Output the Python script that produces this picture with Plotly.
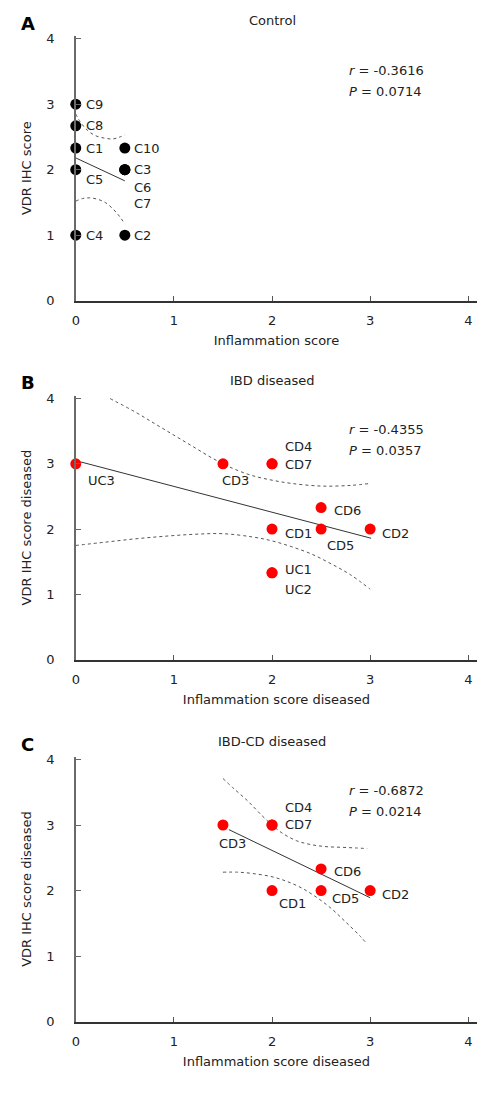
import plotly.graph_objects as go

# ---------------- data ----------------
# Panel A: Control
a_labels = ["C9", "C8", "C1", "C5", "C4", "C10", "C3", "C6", "C7", "C2"]
a_x = [0, 0, 0, 0, 0, 0.5, 0.5, 0.5, 0.5, 0.5]
a_y = [3, 2.67, 2.33, 2, 1, 2.33, 2, 2, 2, 1]
a_fit_x = [0, 0.5]
a_fit_y = [2.18, 1.83]
a_up_x = [0.0, 0.05, 0.12, 0.2, 0.3, 0.38, 0.45, 0.5]
a_up_y = [2.85, 2.72, 2.6, 2.52, 2.48, 2.47, 2.5, 2.53]
a_lo_x = [0.0, 0.07, 0.14, 0.22, 0.3, 0.38, 0.45, 0.5]
a_lo_y = [1.52, 1.56, 1.57, 1.55, 1.5, 1.4, 1.28, 1.17]
a_r, a_p = "-0.3616", "0.0714"

# Panel B: IBD diseased
b_labels = ["UC3", "CD3", "CD4", "CD7", "CD6", "CD1", "CD5", "CD2", "UC1", "UC2"]
b_x = [0, 1.5, 2, 2, 2.5, 2, 2.5, 3, 2, 2]
b_y = [3, 3, 3, 3, 2.33, 2, 2, 2, 1.33, 1.33]
b_fit_x = [0.05, 3.01]
b_fit_y = [3.03, 1.86]
b_up_x = [0.35, 0.6, 0.8, 1.0, 1.2, 1.4, 1.6, 1.8, 2.0, 2.2, 2.5, 2.8, 3.0]
b_up_y = [4.0, 3.8, 3.62, 3.44, 3.26, 3.08, 2.93, 2.82, 2.75, 2.7, 2.66, 2.67, 2.70]
b_lo_x = [0.0, 0.3, 0.6, 0.9, 1.2, 1.5, 1.8, 2.0, 2.2, 2.4, 2.6, 2.8, 3.0]
b_lo_y = [1.75, 1.8, 1.85, 1.89, 1.92, 1.93, 1.88, 1.82, 1.73, 1.62, 1.47, 1.3, 1.08]
b_r, b_p = "-0.4355", "0.0357"

# Panel C: IBD-CD diseased
c_labels = ["CD3", "CD4", "CD7", "CD6", "CD1", "CD5", "CD2"]
c_x = [1.5, 2, 2, 2.5, 2, 2.5, 3]
c_y = [3, 3, 3, 2.33, 2, 2, 2]
c_fit_x = [1.56, 3.0]
c_fit_y = [2.93, 1.89]
c_up_x = [1.5, 1.6, 1.75, 1.9, 2.0, 2.1, 2.25, 2.4, 2.55, 2.7, 2.85, 2.97]
c_up_y = [3.71, 3.57, 3.37, 3.14, 3.0, 2.88, 2.76, 2.7, 2.67, 2.66, 2.65, 2.64]
c_lo_x = [1.5, 1.65, 1.8, 2.0, 2.15, 2.3, 2.45, 2.6, 2.75, 2.9, 2.97]
c_lo_y = [2.28, 2.28, 2.26, 2.21, 2.14, 2.04, 1.9, 1.73, 1.52, 1.3, 1.18]
c_r, c_p = "-0.6872", "0.0214"

tick_vals = [0, 1, 2, 3, 4]

# ---------------- label placement (pixel offsets) ----------------
a_off = [(8, 0), (8, 0), (8, 0), (8, -10), (8, 0), (7.5, 0), (7.5, 0), (7.5, -18), (7.5, -34), (7.5, 0)]
b_off = [(10, -17), (-2.5, -17), (10.5, 17), (10.5, -1), (11, -3), (10.5, -4), (3.5, -16), (10, -4), (10.5, 3), (10.5, -17)]
c_off = [(-6, -18), (10.5, 18), (10.5, 1), (11, -3), (4.7, -12.5), (8.5, -8), (10, -3.5)]

# page has an 8px body margin; keep the page from growing past the window
M = 8.0
W = 500.0 - 2 * M
H = 1094.0 - 2 * M - 10
FONT = "DejaVu Sans"
TXT = "#222222"


def px_x(px):
    return (px - M) / W


def px_y(px):
    return 1 - (px - M) / H


panels = [
    dict(key="", lab=a_labels, x=a_x, y=a_y, fx=a_fit_x, fy=a_fit_y, ux=a_up_x, uy=a_up_y,
         lx=a_lo_x, ly=a_lo_y, r=a_r, p=a_p, off=a_off, color="#000000",
         title="Control", letter="A", xt="Inflammation score", yt="VDR IHC score",
         px0=300, px4=35, title_px=17, letter_px=20),
    dict(key="2", lab=b_labels, x=b_x, y=b_y, fx=b_fit_x, fy=b_fit_y, ux=b_up_x, uy=b_up_y,
         lx=b_lo_x, ly=b_lo_y, r=b_r, p=b_p, off=b_off, color="#ff0000",
         title="IBD diseased", letter="B", xt="Inflammation score diseased",
         yt="VDR IHC score diseased", px0=663, px4=399, title_px=381, letter_px=383),
    dict(key="3", lab=c_labels, x=c_x, y=c_y, fx=c_fit_x, fy=c_fit_y, ux=c_up_x, uy=c_up_y,
         lx=c_lo_x, ly=c_lo_y, r=c_r, p=c_p, off=c_off, color="#ff0000",
         title="IBD-CD diseased", letter="C", xt="Inflammation score diseased",
         yt="VDR IHC score diseased", px0=1029, px4=764, title_px=746, letter_px=749),
]

fig = go.Figure()
annotations = []
layout = {}
for pn in panels:
    k = pn["key"]
    xa, ya = "x" + k, "y" + k
    # confidence bands
    for bx, by in ((pn["ux"], pn["uy"]), (pn["lx"], pn["ly"])):
        fig.add_trace(go.Scatter(x=bx, y=by, xaxis=xa, yaxis=ya, mode="lines",
                                 line=dict(color="#555555", width=1, dash="dot", shape="spline"),
                                 hoverinfo="skip", showlegend=False))
    # regression line
    fig.add_trace(go.Scatter(x=pn["fx"], y=pn["fy"], xaxis=xa, yaxis=ya, mode="lines",
                             line=dict(color="#333333", width=1), showlegend=False))
    # points
    fig.add_trace(go.Scatter(x=pn["x"], y=pn["y"], xaxis=xa, yaxis=ya, mode="markers",
                             marker=dict(color=pn["color"], size=11), cliponaxis=False,
                             text=pn["lab"], showlegend=False))
    for lab, xv, yv, (dx, dy) in zip(pn["lab"], pn["x"], pn["y"], pn["off"]):
        annotations.append(dict(x=xv, y=yv, xref=xa, yref=ya, text=lab, showarrow=False,
                                xanchor="left", yanchor="middle", xshift=dx, yshift=dy,
                                font=dict(size=13, color=TXT, family=FONT)))
    # statistics
    annotations.append(dict(x=2.76, y=3.52, xref=xa, yref=ya, text="<i>r</i> = " + pn["r"],
                            showarrow=False, xanchor="left", yanchor="middle",
                            font=dict(size=13, color=TXT, family=FONT)))
    annotations.append(dict(x=2.76, y=3.2, xref=xa, yref=ya, text="<i>P</i> = " + pn["p"],
                            showarrow=False, xanchor="left", yanchor="middle",
                            font=dict(size=13, color=TXT, family=FONT)))
    # panel title and letter
    annotations.append(dict(x=0.49, y=px_y(pn["title_px"]), xref=xa + " domain", yref="paper",
                            text=pn["title"], showarrow=False, xanchor="center", yanchor="middle",
                            font=dict(size=13, color=TXT, family=FONT)))
    annotations.append(dict(x=px_x(24), y=px_y(pn["letter_px"]), xref="paper", yref="paper",
                            text="<b>" + pn["letter"] + "</b>", showarrow=False,
                            xanchor="center", yanchor="middle",
                            font=dict(size=18, color="#000000", family=FONT)))
    # axes
    unit = (pn["px0"] - pn["px4"]) / 4.0
    top = pn["px4"] - 3
    ymax = (pn["px0"] - top) / unit
    layout["xaxis" + k] = dict(domain=[px_x(72.3), px_x(477)], range=[0, 4.09], anchor=ya,
                               tickvals=tick_vals, ticks="inside", ticklen=5, tickcolor="#555555",
                               showline=True, linecolor="#333333", linewidth=1.5, showgrid=False,
                               zeroline=False, ticklabelstandoff=7,
                               tickfont=dict(size=13, color=TXT, family=FONT),
                               title=dict(text=pn["xt"], standoff=9,
                                          font=dict(size=13, color=TXT, family=FONT)))
    layout["yaxis" + k] = dict(domain=[px_y(pn["px0"]), px_y(top)], range=[0, ymax], anchor=xa,
                               tickvals=tick_vals, ticks="inside", ticklen=5, tickcolor="#666666",
                               showline=True, linecolor="#6a6a6a", linewidth=1.5, showgrid=False,
                               zeroline=False, ticklabelstandoff=17,
                               tickfont=dict(size=13, color=TXT, family=FONT),
                               title=dict(text=pn["yt"], standoff=12,
                                          font=dict(size=13, color=TXT, family=FONT)))

fig.update_layout(width=W, height=H, margin=dict(l=0, r=0, t=0, b=0),
                  paper_bgcolor="white", plot_bgcolor="white", showlegend=False,
                  font=dict(family=FONT, size=13, color=TXT),
                  annotations=annotations, **layout)
fig.write_html("out.html")
